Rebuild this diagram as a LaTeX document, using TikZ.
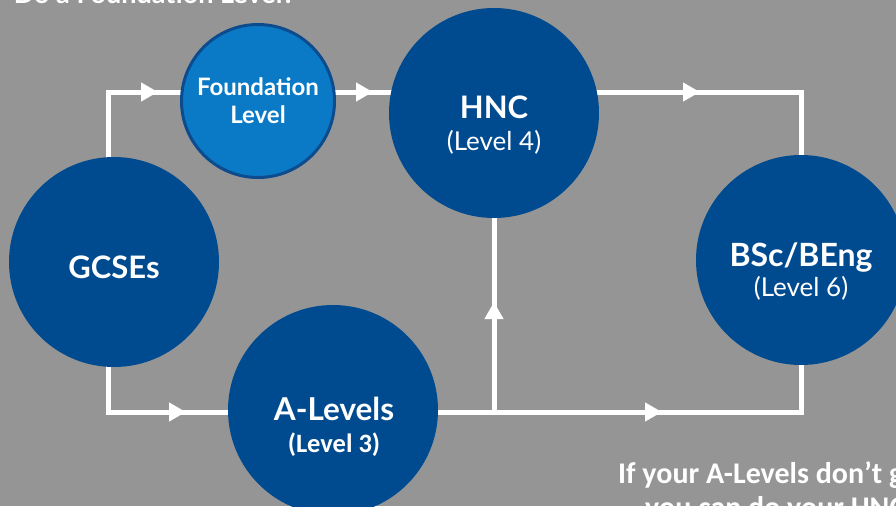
\documentclass[tikz,border=0pt]{standalone}
\usepackage{fontspec}
\setmainfont{Lato}
\newfontfamily\calib{Carlito}
\usetikzlibrary{arrows.meta,decorations.markings}
\pgfdeclarelayer{background}
\pgfsetlayers{background,main}
\definecolor{bggray}{HTML}{959595}
\definecolor{darkblue}{HTML}{004B8F}
\definecolor{lightblue}{HTML}{0A7AC6}
\definecolor{ringblue}{HTML}{0C4C8E}
\tikzset{
  bigcircle/.style={circle, fill=darkblue, minimum size=210pt, inner sep=0pt},
  fcircle/.style={circle, fill=lightblue, draw=ringblue, line width=3pt, minimum size=153pt, inner sep=0pt},
  lbl/.style={text=white, anchor=base, inner sep=0pt},
  conn/.style={draw=white, line width=5pt, line join=miter},
  tipat/.style={postaction={decorate}, decoration={markings, mark=at position #1 with {\arrow[white]{Triangle[length=17pt,width=18pt]}}}},
}
\begin{document}
\begin{tikzpicture}[x=1pt,y=-1pt]
\useasboundingbox (0,0) rectangle (896,506);
\clip (0,0) rectangle (896,506);
% circles
\node[bigcircle] (g) at (114,262) {};
\node[fcircle] (f) at (258,101) {};
\node[bigcircle] (h) at (494,113) {};
\node[bigcircle] (a) at (333,410) {};
\node[bigcircle] (b) at (801,260) {};
% labels
\node[lbl] (gt) at (114,278) {\fontsize{31}{36}\selectfont\bfseries GCSEs};
\node[lbl] (ft1) at (258,95) {\fontsize{24}{28}\selectfont\bfseries Foundation};
\node[lbl] (ft2) at (258,123) {\fontsize{24}{28}\selectfont\bfseries Level};
\node[lbl] (ht1) at (494,118) {\fontsize{31}{35}\selectfont\bfseries HNC};
\node[lbl] (ht2) at (494,150) {\fontsize{26}{30}\selectfont (Level 4)};
\node[lbl] (at1) at (334,420) {\fontsize{31.5}{36}\selectfont\bfseries A-Levels};
\node[lbl] (at2) at (334,452) {\calib\fontsize{26.5}{30}\selectfont\bfseries (Level 3)};
\node[lbl] (bt1) at (801,266) {\fontsize{32}{36}\selectfont\bfseries BSc/BEng};
\node[lbl] (bt2) at (801,296) {\fontsize{26}{30}\selectfont (Level 6)};
% cut-off texts
\node[lbl, anchor=base east] (top) at (295,4) {\fontsize{27}{31}\selectfont\bfseries Do a Foundation Level?};
\node[lbl, anchor=base west] (note1) at (618,483) {\calib\fontsize{30}{34}\selectfont\bfseries If your A-Levels don’t go};
\node[lbl, anchor=base west] (note2) at (645,517) {\calib\fontsize{30}{34}\selectfont\bfseries you can do your HNC};
% connectors
\coordinate (tl) at (108,92);
\coordinate (bl) at (108,412);
\coordinate (tr) at (801,92);
\coordinate (br) at (801,412);
\coordinate (mj) at (494,412);
\begin{pgfonlayer}{background}
\fill[bggray] (0,0) rectangle (896,506);
\draw[conn,tipat=220pt] (g.center -| tl) -- (tl) -- (f.center |- tl);
\draw[conn,tipat=115pt] (f.center |- tl) -- (h.center |- tl);
\draw[conn,tipat=206pt] (h.center |- tl) -- (tr) -- (b.center -| tr);
\draw[conn,tipat=228pt] (g.center -| bl) -- (bl) -- (a.center |- bl);
\draw[conn,tipat=329pt] (a.center |- bl) -- (br) -- (b.center -| br);
\draw[conn,tipat=110pt] (mj) -- (h.center -| mj);
\end{pgfonlayer}
\end{tikzpicture}
\end{document}
